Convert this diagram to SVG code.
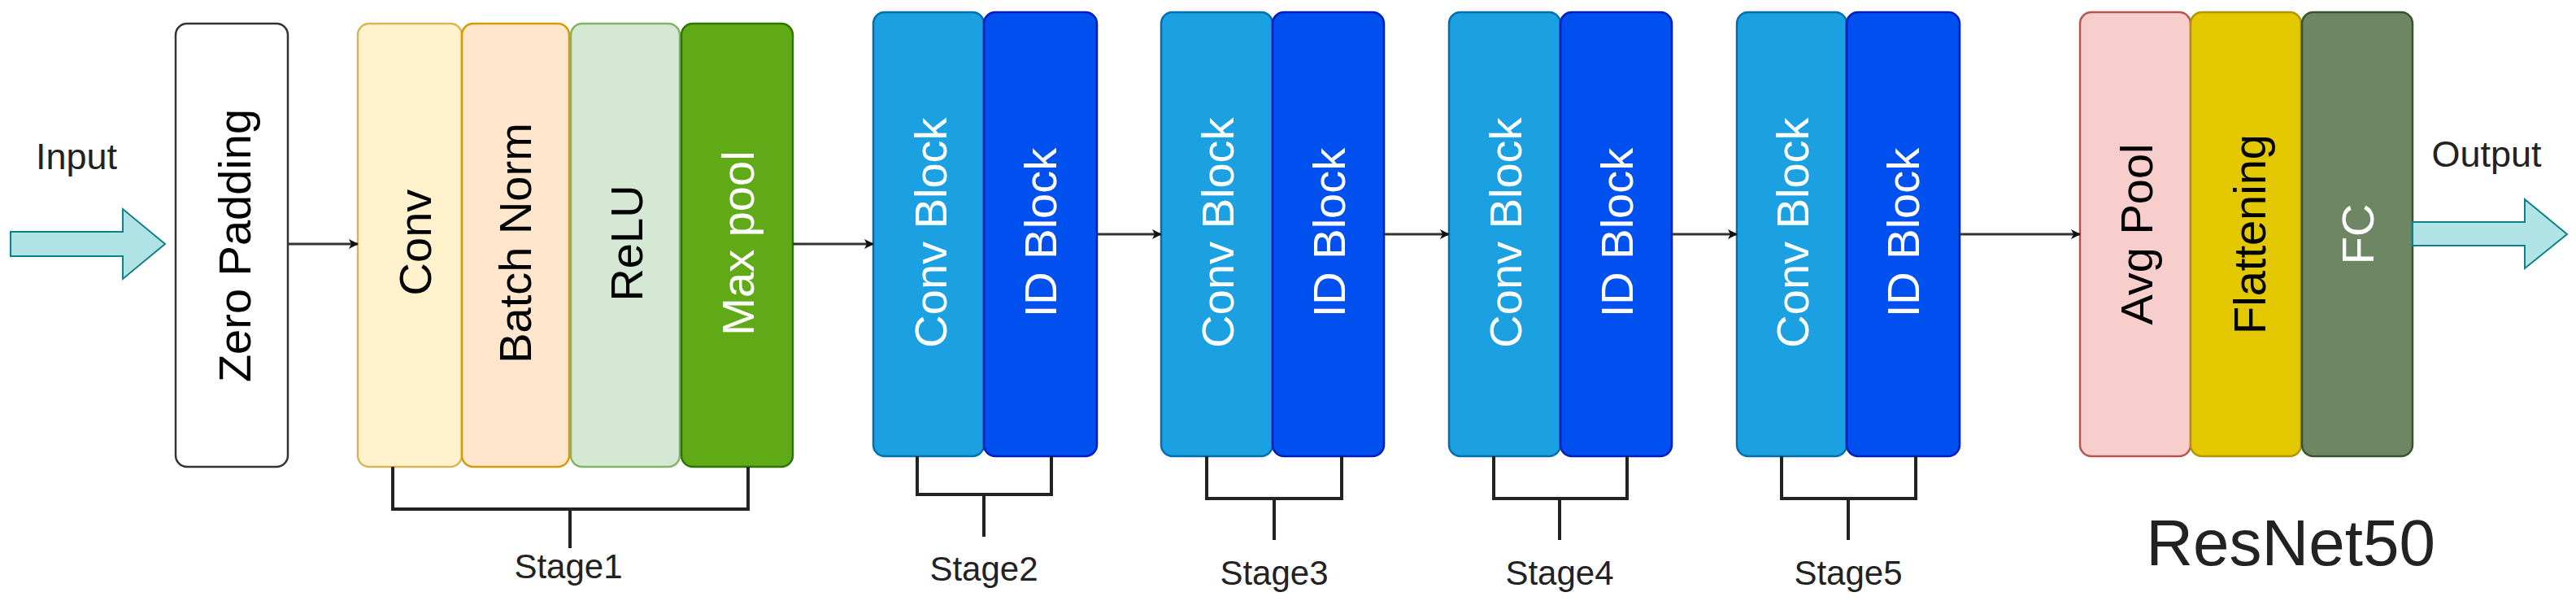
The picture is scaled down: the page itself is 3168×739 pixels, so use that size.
<svg xmlns="http://www.w3.org/2000/svg" width="3168" height="739" viewBox="0 0 3168 739">
<style>
.b{stroke-width:2.5}
.t{font-family:"Liberation Sans",Arial,sans-serif;font-size:56px;text-anchor:middle;dominant-baseline:central}
.h{font-family:"Liberation Sans",Arial,sans-serif;fill:#222;text-anchor:middle}
.c{stroke:#333;stroke-width:3;fill:none}
.k{stroke:#222;stroke-width:4;fill:none}
.cb{fill:#1ba1e2;stroke:#006eaf}
.id{fill:#0050ef;stroke:#001dbc}
</style>
<defs>
<marker id="ah" markerWidth="12" markerHeight="12" refX="11" refY="6" orient="auto" markerUnits="userSpaceOnUse"><path d="M0,0 L12,6 L0,12 L3,6 Z" fill="#111"/></marker>
</defs>
<rect width="3168" height="739" fill="#fff"/>
<g id="input">
<path d="M13,285 H151 V257 L203,300 L151,343 V315 H13 Z" fill="#b0e3e6" stroke="#0e8088" stroke-width="2"/>
<text class="h" x="94" y="208" font-size="45">Input</text>
</g>
<g id="zero"><rect class="b" x="216" y="29" width="138" height="545" rx="14" fill="#fff" stroke="#333"/>
<text class="t" transform="rotate(-90 288 302)" x="288" y="302">Zero Padding</text></g>
<g id="conv"><rect class="b" x="440" y="29" width="128" height="545" rx="14" fill="#fff2cc" stroke="#d6b656"/>
<text class="t" transform="rotate(-90 510 298)" x="510" y="298">Conv</text></g>
<g id="bn"><rect class="b" x="568" y="29" width="132" height="545" rx="14" fill="#ffe6cc" stroke="#d79b00"/>
<text class="t" transform="rotate(-90 633 299)" x="633" y="299">Batch Norm</text></g>
<g id="relu"><rect class="b" x="702" y="29" width="134" height="545" rx="14" fill="#d5e8d4" stroke="#82b366"/>
<text class="t" transform="rotate(-90 770 299)" x="770" y="299">ReLU</text></g>
<g id="maxpool"><rect class="b" x="838" y="29" width="137" height="545" rx="14" fill="#60a917" stroke="#2d7600"/>
<text class="t" fill="#fff" transform="rotate(-90 907 299)" x="907" y="299">Max pool</text></g>

<g id="s2conv"><rect class="b cb" x="1074" y="15" width="136" height="546" rx="14"/>
<text class="t" fill="#fff" transform="rotate(-90 1144 286)" x="1144" y="286">Conv Block</text></g>
<g id="s2id"><rect class="b id" x="1210" y="15" width="139" height="546" rx="14"/>
<text class="t" fill="#fff" transform="rotate(-90 1279 286)" x="1279" y="286">ID Block</text></g>
<g id="s3conv"><rect class="b cb" x="1428" y="15" width="137" height="546" rx="14"/>
<text class="t" fill="#fff" transform="rotate(-90 1497 286)" x="1497" y="286">Conv Block</text></g>
<g id="s3id"><rect class="b id" x="1565" y="15" width="137" height="546" rx="14"/>
<text class="t" fill="#fff" transform="rotate(-90 1634 286)" x="1634" y="286">ID Block</text></g>
<g id="s4conv"><rect class="b cb" x="1782" y="15" width="137" height="546" rx="14"/>
<text class="t" fill="#fff" transform="rotate(-90 1851 286)" x="1851" y="286">Conv Block</text></g>
<g id="s4id"><rect class="b id" x="1919" y="15" width="137" height="546" rx="14"/>
<text class="t" fill="#fff" transform="rotate(-90 1988 286)" x="1988" y="286">ID Block</text></g>
<g id="s5conv"><rect class="b cb" x="2136" y="15" width="135" height="546" rx="14"/>
<text class="t" fill="#fff" transform="rotate(-90 2204 286)" x="2204" y="286">Conv Block</text></g>
<g id="s5id"><rect class="b id" x="2271" y="15" width="139" height="546" rx="14"/>
<text class="t" fill="#fff" transform="rotate(-90 2340 286)" x="2340" y="286">ID Block</text></g>

<g id="avgpool"><rect class="b" x="2558" y="15" width="136" height="546" rx="14" fill="#f8cecc" stroke="#b85450"/>
<text class="t" transform="rotate(-90 2627 288)" x="2627" y="288">Avg Pool</text></g>
<g id="flat"><rect class="b" x="2694" y="15" width="136" height="546" rx="14" fill="#e3c800" stroke="#b09500"/>
<text class="t" transform="rotate(-90 2766 288)" x="2766" y="288">Flattening</text></g>
<g id="fc"><rect class="b" x="2831" y="15" width="136" height="546" rx="14" fill="#6d8764" stroke="#3a5431"/>
<text class="t" fill="#fff" transform="rotate(-90 2899 288)" x="2899" y="288">FC</text></g>
<g id="output">
<path d="M2967,273 H3105 V245 L3157,288 L3105,330 V302 H2967 Z" fill="#b0e3e6" stroke="#0e8088" stroke-width="2"/>
<text class="h" x="3058" y="205" font-size="45">Output</text>
</g>
<g id="title"><text class="h" x="2817" y="695" font-size="80">ResNet50</text></g>

<g id="connectors">
<path class="c" d="M354,300 H440" marker-end="url(#ah)"/>
<path class="c" d="M975,300 H1074" marker-end="url(#ah)"/>
<path class="c" d="M1349,288 H1428" marker-end="url(#ah)"/>
<path class="c" d="M1702,288 H1782" marker-end="url(#ah)"/>
<path class="c" d="M2056,288 H2136" marker-end="url(#ah)"/>
<path class="c" d="M2410,288 H2558" marker-end="url(#ah)"/>
<path class="k" d="M483,574 V626 H920 V574 M701,626 V674"/>
<path class="k" d="M1128,561 V608 H1293 V561 M1210,608 V660"/>
<path class="k" d="M1484,561 V613 H1650 V561 M1567,613 V664"/>
<path class="k" d="M1837,561 V613 H2001 V561 M1918,613 V664"/>
<path class="k" d="M2191,561 V613 H2356 V561 M2273,613 V664"/>
</g>
<g id="stages">
<text class="h" x="699" y="711" font-size="42">Stage1</text>
<text class="h" x="1210" y="714" font-size="42">Stage2</text>
<text class="h" x="1567" y="719" font-size="42">Stage3</text>
<text class="h" x="1918" y="719" font-size="42">Stage4</text>
<text class="h" x="2273" y="719" font-size="42">Stage5</text>
</g>
</svg>
